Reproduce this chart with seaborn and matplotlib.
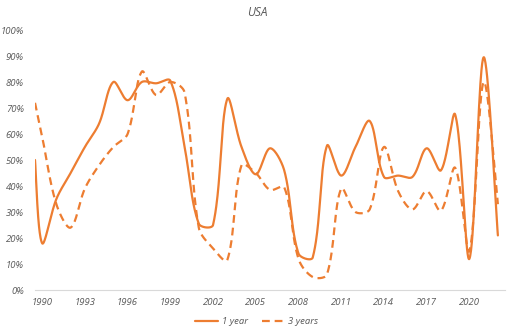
import numpy as np
import pandas as pd
import matplotlib
matplotlib.use("Agg")
import matplotlib.pyplot as plt
import seaborn as sns
from matplotlib.lines import Line2D

years = [1989.5] + list(range(1990, 2023))
one_year = [50, 18, 35, 45, 55, 64, 80, 73, 80, 79.5, 80.5, 55, 25.5, 25, 73.5, 55, 44.5,
            54.5, 46, 14, 12.5, 55.5, 44, 55, 65, 43.5, 44, 43.5, 54.5, 46, 67.5, 12, 89.5, 21]
three_years = [72, 59, 33, 24, 39, 48, 55, 60, 84, 75, 80, 76, 24, 16, 11.5, 48, 45,
               38.5, 39.5, 12, 5, 6, 39, 30, 31, 55, 38, 31, 38, 30.5, 47, 15, 80, 33]
series_names = ["1 year", "3 years"]
xticks = [1990, 1993, 1996, 1999, 2002, 2005, 2008, 2011, 2014, 2017, 2020]
yticks = list(range(0, 101, 10))

ORANGE = "#ED7D31"
GRAY = "#595959"

PX_X = 14.24   # pixels per year (for smoothing in screen space)
PX_Y = 260.0   # pixels per unit (0..1)


def smooth(xs, ys, n=40):
    """Excel-like smoothed line: cubic Bezier with chord-weighted tangents."""
    p = np.column_stack([np.array(xs, float) * PX_X, np.array(ys, float) / 100.0 * PX_Y])
    m = len(p)
    out = []
    for i in range(m - 1):
        p0 = p[max(i - 1, 0)]
        p1 = p[i]
        p2 = p[i + 1]
        p3 = p[min(i + 2, m - 1)]
        d01 = np.linalg.norm(p1 - p0)
        d12 = np.linalg.norm(p2 - p1)
        d23 = np.linalg.norm(p3 - p2)
        t1 = p2 - p0
        t2 = p3 - p1
        w1 = d12 / (d01 + d12) if d01 > 0 else 0.5
        w2 = d12 / (d12 + d23) if d23 > 0 else 0.5
        b1 = p1 + t1 * w1 / 3.0
        b2 = p2 - t2 * w2 / 3.0
        t = np.linspace(0, 1, n, endpoint=(i == m - 2))[:, None]
        seg = ((1 - t) ** 3) * p1 + 3 * ((1 - t) ** 2) * t * b1 + 3 * (1 - t) * t ** 2 * b2 + t ** 3 * p2
        out.append(seg)
    out = np.vstack(out)
    return out[:, 0] / PX_X, out[:, 1] / PX_Y


sns.set_theme(style="white")
plt.rcParams["font.family"] = ["Open Sans", "DejaVu Sans"]

fig = plt.figure(figsize=(5.13, 3.34), dpi=100)
ax = fig.add_axes([35 / 513, 44 / 334, 470 / 513, 260 / 334])

frames = []
for name, vals in zip(series_names, [one_year, three_years]):
    sx, sy = smooth(years, vals)
    frames.append(pd.DataFrame({"x": sx, "y": sy, "series": name}))
df = pd.concat(frames, ignore_index=True)

sns.lineplot(data=df, x="x", y="y", hue="series", style="series",
             palette=[ORANGE, ORANGE], dashes={"1 year": "", "3 years": (3.5, 2.2)},
             sort=False, estimator=None, linewidth=1.6, ax=ax, legend=False)

ax.set_xlim(1989.5, 2022.5)
ax.set_ylim(0, 1)
ax.set_xticks(xticks)
ax.set_xticklabels([str(t) for t in xticks])
ax.set_yticks([v / 100 for v in yticks])
ax.set_yticklabels([f"{v}%" for v in yticks])
ax.tick_params(axis="both", length=0, labelsize=6.8, colors=GRAY)
ax.tick_params(axis="x", pad=6)
ax.tick_params(axis="y", pad=8)
for lbl in ax.get_xticklabels() + ax.get_yticklabels():
    lbl.set_fontstyle("italic")
ax.set_xlabel("")
ax.set_ylabel("")
for s in ["top", "right", "left"]:
    ax.spines[s].set_visible(False)
ax.spines["bottom"].set_color("#D9D9D9")
ax.spines["bottom"].set_linewidth(0.8)
ax.grid(False)

fig.text(257 / 513, 1 - 13 / 334, "USA", ha="center", va="center",
         fontsize=8.5, style="italic", color=GRAY)

handles = [Line2D([], [], color=ORANGE, lw=1.6),
           Line2D([], [], color=ORANGE, lw=1.6, dashes=(3.5, 2.2))]
leg = fig.legend(handles, series_names, loc="center", bbox_to_anchor=(257 / 513, 1 - 322 / 334),
                 ncol=2, frameon=False, fontsize=6.8, handlelength=2.4, columnspacing=1.5,
                 handletextpad=0.4)
for t in leg.get_texts():
    t.set_color(GRAY)
    t.set_fontstyle("italic")

fig.savefig("out.png", dpi=100)
